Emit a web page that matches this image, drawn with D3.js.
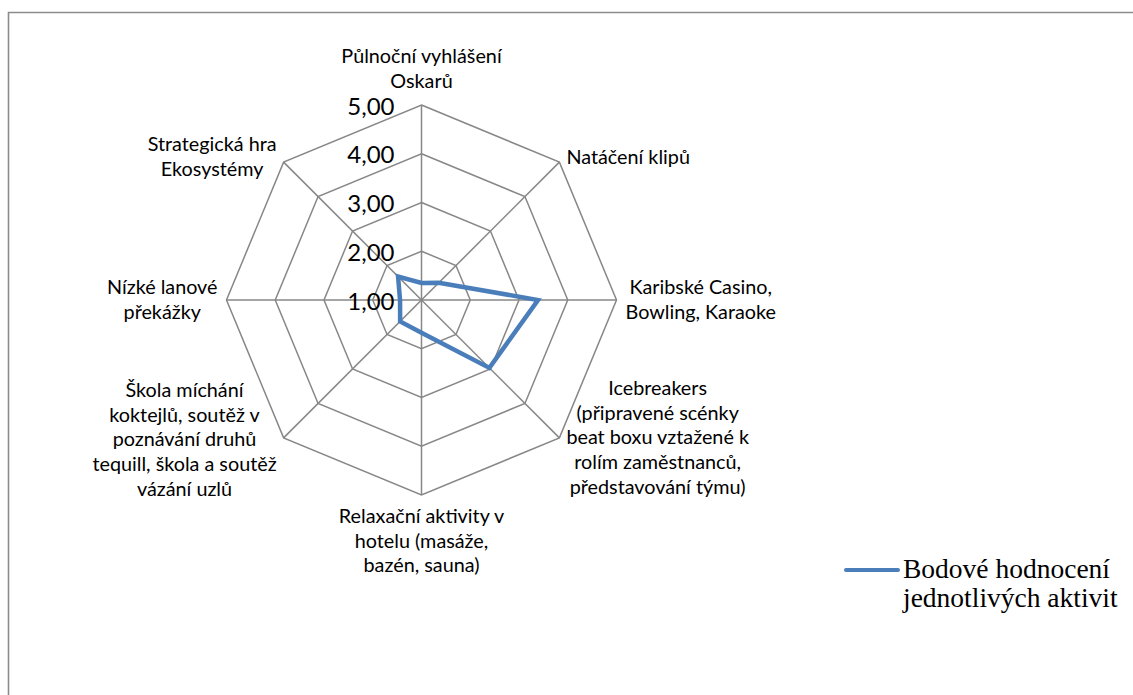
<!DOCTYPE html>
<html>
<head>
<meta charset="utf-8">
<script src="https://cdn.jsdelivr.net/npm/d3@7"></script>
<style>
  html, body { margin: 0; padding: 0; background: #ffffff; }
  svg { display: block; }
</style>
</head>
<body>
<svg id="chart" width="1133" height="695"></svg>
<script>
// ---- data ----
const categories = [
  ["Půlnoční vyhlášení", "Oskarů"],
  ["Natáčení klipů"],
  ["Karibské Casino,", "Bowling, Karaoke"],
  ["Icebreakers", "(připravené scénky", "beat boxu vztažené k", "rolím zaměstnanců,", "představování týmu)"],
  ["Relaxační aktivity v", "hotelu (masáže,", "bazén, sauna)"],
  ["Škola míchání", "koktejlů, soutěž v", "poznávání druhů", "tequill, škola a soutěž", "vázání uzlů"],
  ["Nízké lanové", "překážky"],
  ["Strategická hra", "Ekosystémy"]
];
const values = [1.35, 1.50, 3.39, 2.97, 1.67, 1.62, 1.44, 1.68];
const tickValues = [1, 2, 3, 4, 5];
const tickLabels = ["1,00", "2,00", "3,00", "4,00", "5,00"];
const seriesName = ["Bodové hodnocení", "jednotlivých aktivit"];

// ---- layout ----
const svg = d3.select("#chart");
const cx = 421.5, cy = 300, R = 195;
const rScale = d3.scaleLinear().domain([1, 5]).range([0, R]);
const angle = d3.scaleLinear().domain([0, categories.length]).range([0, 2 * Math.PI]);
const pt = (i, v) => {
  const a = angle(i), r = rScale(v);
  return [cx + r * Math.sin(a), cy - r * Math.cos(a)];
};
const gridColor = "#878787";
const seriesColor = "#4a7ebb";
const labelFont = "Lato, 'Open Sans', sans-serif";
const labelSize = 19.8;
const lh = 24.7;

// frame (only top/left edges are visible in the picture)
svg.append("path")
  .attr("d", "M8.5,760 V12.5 H1200")
  .attr("fill", "none")
  .attr("stroke", "#8c8c8c")
  .attr("stroke-width", 1.6);

const g = svg.append("g");

// rings
const idx = d3.range(categories.length);
tickValues.filter(t => t > 1).forEach(t => {
  g.append("path")
    .attr("d", d3.line()(idx.map(i => pt(i, t))) + "Z")
    .attr("fill", "none")
    .attr("stroke", gridColor)
    .attr("stroke-width", 1.5);
});
// spokes
idx.forEach(i => {
  const [x, y] = pt(i, 5);
  g.append("line")
    .attr("x1", cx).attr("y1", cy).attr("x2", x).attr("y2", y)
    .attr("stroke", gridColor).attr("stroke-width", 1.5);
});

// tick labels
g.selectAll("text.tick").data(tickValues).join("text")
  .attr("class", "tick")
  .attr("x", cx - 27)
  .attr("y", d => cy - rScale(d) + 9.5)
  .attr("text-anchor", "end")
  .attr("font-family", labelFont)
  .attr("font-size", 24)
  .attr("fill", "#000")
  .text((d, i) => tickLabels[i]);

// series polygon
g.append("path")
  .attr("d", d3.line()(values.map((v, i) => pt(i, v))) + "Z")
  .attr("fill", "none")
  .attr("stroke", seriesColor)
  .attr("stroke-width", 4.5)
  .attr("stroke-linejoin", "miter");

// category labels
categories.forEach((lines, i) => {
  const a = angle(i);
  const s = Math.sin(a), c = Math.cos(a);
  const [vx, vy] = pt(i, 5);
  const tg = g.append("g");
  const texts = lines.map(l => tg.append("text")
    .attr("font-family", labelFont)
    .attr("font-size", labelSize)
    .attr("fill", "#000")
    .attr("text-anchor", "middle")
    .text(l));
  const maxW = d3.max(texts, t => t.node().getComputedTextLength());
  const n = lines.length;
  let bx, firstBase;
  if (Math.abs(s) < 0.01) {
    bx = vx;
    if (c > 0) firstBase = vy - 17 - (n - 1) * lh;
    else firstBase = vy + 28;
  } else {
    const pad = Math.abs(c) < 0.01 ? 9 : 7;
    bx = s > 0 ? vx + pad + maxW / 2 : vx - pad - maxW / 2;
    const off = c > 0.1 ? -5 : (c < -0.1 && s < 0 ? 2 : 0);
    firstBase = vy + off - (n - 1) * lh / 2 + 6.5;
  }
  texts.forEach((t, k) => t.attr("x", bx).attr("y", firstBase + k * lh));
});

// legend
const leg = svg.append("g");
leg.append("line")
  .attr("x1", 846).attr("x2", 898).attr("y1", 570).attr("y2", 570)
  .attr("stroke", seriesColor).attr("stroke-width", 4)
  .attr("stroke-linecap", "round");
leg.selectAll("text").data(seriesName).join("text")
  .attr("x", 903)
  .attr("y", (d, i) => 578 + i * 29)
  .attr("font-family", "'Liberation Serif', 'Times New Roman', serif")
  .attr("font-size", 27.5)
  .attr("fill", "#000")
  .text(d => d);
</script>
</body>
</html>
